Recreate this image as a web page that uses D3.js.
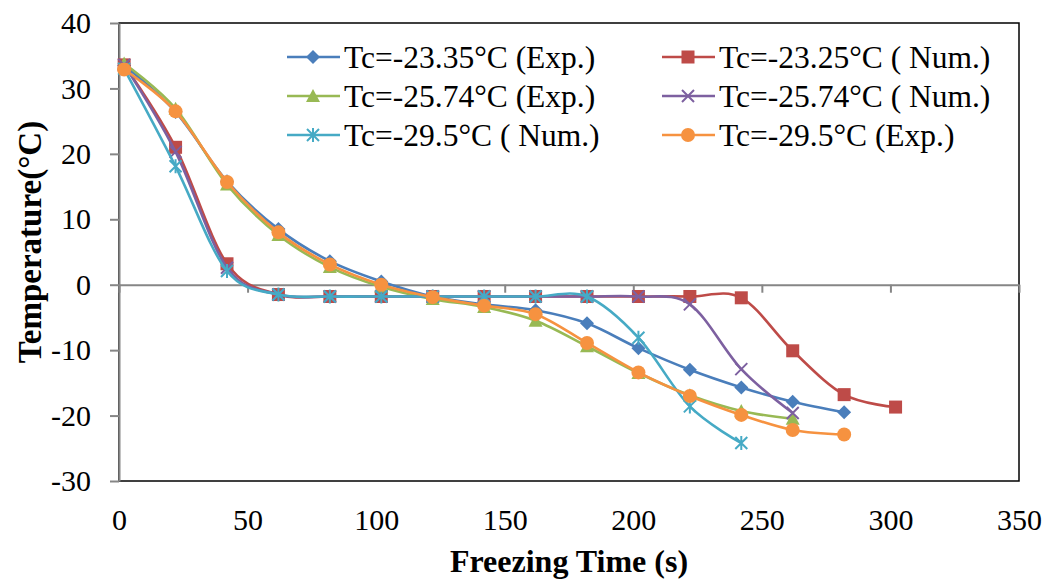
<!DOCTYPE html>
<html lang="en">
  <head>
    <meta charset="UTF-8" />
    <script src="https://d3js.org/d3.v7.min.js"></script>
    <style>
      body { margin: 0; background: #fff; }
      svg text { font-family: "Liberation Serif", "Times New Roman", serif; }
    </style>
  </head>

  <body>
    <script>
      var width = 1052,
        height = 580;

      // time values (s), shared by all series
      var times = [2, 22, 42, 62, 82, 102, 122, 142, 162, 182, 202, 222, 242, 262, 282, 302];

      var exp2335 = [33.5, 26.4, 15.8, 8.5, 3.6, 0.5, -1.8, -3.0, -3.9, -5.9, -9.7, -13.0, -15.7, -17.9, -19.5];
      var num2325 = [33.6, 21.0, 3.2, -1.5, -1.8, -1.8, -1.8, -1.8, -1.8, -1.8, -1.8, -1.8, -2.0, -10.1, -16.8, -18.7];
      var exp2574 = [33.8, 26.9, 15.3, 7.6, 2.7, -0.3, -2.2, -3.4, -5.5, -9.4, -13.5, -16.9, -19.3, -20.5];
      var num2574 = [33.6, 20.3, 2.6, -1.5, -1.8, -1.8, -1.8, -1.8, -1.8, -1.8, -1.8, -3.0, -12.9, -19.6];
      var num295 = [33.0, 18.1, 2.1, -1.5, -1.8, -1.8, -1.8, -1.8, -1.8, -1.8, -8.1, -18.6, -24.2];
      var exp295 = [32.9, 26.5, 15.7, 8.0, 3.1, 0.0, -1.9, -3.2, -4.5, -8.9, -13.4, -17.0, -19.9, -22.2, -22.9];

      var seriesNames = [
        "Tc=-23.35°C (Exp.)",
        "Tc=-23.25°C ( Num.)",
        "Tc=-25.74°C (Exp.)",
        "Tc=-25.74°C ( Num.)",
        "Tc=-29.5°C ( Num.)",
        "Tc=-29.5°C (Exp.)"
      ];
      var seriesValues = [exp2335, num2325, exp2574, num2574, num295, exp295];
      var seriesColors = ["#4A7EBB", "#BE4B48", "#98B954", "#7D60A0", "#46AAC5", "#F69240"];
      var seriesMarkers = ["diamond", "square", "triangle", "cross", "star", "circle"];

      var xTicks = [0, 50, 100, 150, 200, 250, 300, 350];
      var yTicks = [-30, -20, -10, 0, 10, 20, 30, 40];

      var serif = "Liberation Serif, Times New Roman, serif";

      var svg = d3
        .select("body")
        .append("svg")
        .attr("width", width)
        .attr("height", height);

      var x = d3.scaleLinear().domain([0, 350]).range([119, 1019]);
      var y = d3.scaleLinear().domain([-30, 40]).range([481, 23]);

      // plot area frame
      svg
        .append("rect")
        .attr("x", x(0))
        .attr("y", y(40))
        .attr("width", x(350) - x(0))
        .attr("height", y(-30) - y(40))
        .attr("fill", "none")
        .attr("stroke", "#000")
        .attr("stroke-width", 1.5);

      function plain(d) {
        return String(d); // keep the hyphen minus like the original
      }

      // y axis
      var yAxis = svg
        .append("g")
        .attr("transform", "translate(" + x(0) + ",0)")
        .call(d3.axisLeft(y).tickValues(yTicks).tickSize(9).tickPadding(19).tickSizeOuter(0).tickFormat(plain))
        .attr("font-family", serif)
        .attr("font-size", 30);
      yAxis.select(".domain").attr("stroke", "#868686").attr("stroke-width", 2);
      yAxis.selectAll(".tick line").attr("stroke", "#868686").attr("stroke-width", 2);
      yAxis.selectAll("text").attr("fill", "#000");

      // x axis line at y = 0 with ticks
      var xAxis = svg
        .append("g")
        .attr("transform", "translate(0," + y(0) + ")")
        .call(d3.axisBottom(x).tickValues(xTicks).tickSize(8).tickSizeOuter(0).tickFormat(""));
      xAxis.select(".domain").attr("stroke", "#868686").attr("stroke-width", 2);
      xAxis.selectAll(".tick line").attr("stroke", "#868686").attr("stroke-width", 2);

      // x tick labels below the plot area
      var xLabels = svg
        .append("g")
        .attr("transform", "translate(0," + y(-30) + ")")
        .call(d3.axisBottom(x).tickValues(xTicks).tickSize(0).tickPadding(28).tickFormat(plain))
        .attr("font-family", serif)
        .attr("font-size", 30);
      xLabels.select(".domain").remove();
      xLabels.selectAll("text").attr("fill", "#000");

      // axis titles
      svg
        .append("text")
        .attr("x", (x(0) + x(350)) / 2)
        .attr("y", 572)
        .attr("text-anchor", "middle")
        .attr("font-size", 32)
        .attr("font-weight", "bold")
        .text("Freezing Time (s)");

      svg
        .append("text")
        .attr("transform", "translate(41,242) rotate(-90)")
        .attr("text-anchor", "middle")
        .attr("font-size", 33)
        .attr("font-weight", "bold")
        .text("Temperature(°C)");

      function drawMarker(g, type, color, cx, cy) {
        if (type === "diamond") {
          g.append("path")
            .attr("d", "M0,-7L7,0L0,7L-7,0Z")
            .attr("transform", "translate(" + cx + "," + cy + ")")
            .attr("fill", color);
        } else if (type === "square") {
          g.append("rect")
            .attr("x", cx - 6.5).attr("y", cy - 6.5)
            .attr("width", 13).attr("height", 13)
            .attr("fill", color);
        } else if (type === "triangle") {
          g.append("path")
            .attr("d", "M0,-7L7,6L-7,6Z")
            .attr("transform", "translate(" + cx + "," + cy + ")")
            .attr("fill", color);
        } else if (type === "circle") {
          g.append("circle")
            .attr("cx", cx).attr("cy", cy).attr("r", 7)
            .attr("fill", color);
        } else if (type === "cross") {
          g.append("path")
            .attr("d", "M-6,-6L6,6M-6,6L6,-6")
            .attr("transform", "translate(" + cx + "," + cy + ")")
            .attr("stroke", color).attr("stroke-width", 2).attr("fill", "none");
        } else if (type === "star") {
          g.append("path")
            .attr("d", "M-6,-6L6,6M-6,6L6,-6M0,-7L0,7")
            .attr("transform", "translate(" + cx + "," + cy + ")")
            .attr("stroke", color).attr("stroke-width", 2).attr("fill", "none");
        }
      }

      var line = d3
        .line()
        .x(function (d) { return x(d[0]); })
        .y(function (d) { return y(d[1]); })
        .curve(d3.curveCardinal.tension(0));

      var plot = svg.append("g");
      seriesValues.forEach(function (vals, i) {
        var pts = vals.map(function (v, k) { return [times[k], v]; });
        var g = plot.append("g");
        g.append("path")
          .attr("d", line(pts))
          .attr("fill", "none")
          .attr("stroke", seriesColors[i])
          .attr("stroke-width", 2.6);
        pts.forEach(function (p) {
          drawMarker(g, seriesMarkers[i], seriesColors[i], x(p[0]), y(p[1]));
        });
      });

      // legend, two columns
      var legendCols = [287, 662];
      var legendRows = [57, 96, 135];
      var legend = svg.append("g");
      seriesNames.forEach(function (name, i) {
        var lx = legendCols[i % 2];
        var ly = legendRows[Math.floor(i / 2)];
        legend.append("line")
          .attr("x1", lx).attr("x2", lx + 53)
          .attr("y1", ly).attr("y2", ly)
          .attr("stroke", seriesColors[i])
          .attr("stroke-width", 2.6);
        drawMarker(legend, seriesMarkers[i], seriesColors[i], lx + 26, ly);
        legend.append("text")
          .attr("x", lx + 57)
          .attr("y", ly)
          .attr("dy", "0.35em")
          .attr("font-size", 31.5)
          .text(name);
      });
    </script>
  </body>
</html>
